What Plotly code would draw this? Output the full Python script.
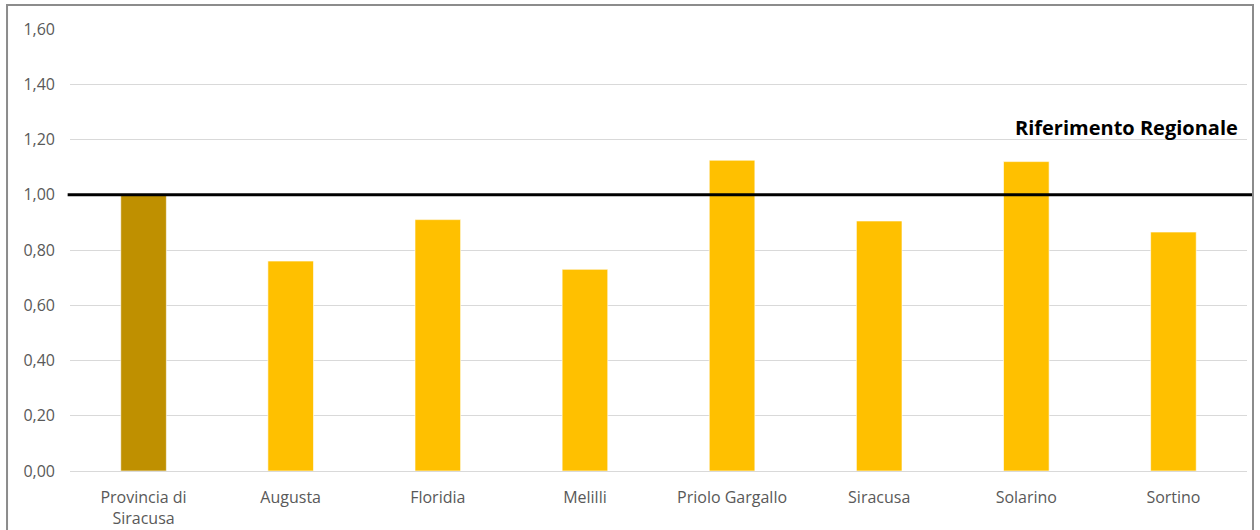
import plotly.graph_objects as go

# Indici per comune (provincia di Siracusa) rispetto al riferimento regionale
comuni = ["Provincia di<br>Siracusa", "Augusta", "Floridia", "Melilli",
          "Priolo Gargallo", "Siracusa", "Solarino", "Sortino"]
valori = [1.00, 0.76, 0.91, 0.73, 1.125, 0.905, 1.12, 0.865]
colori = ["#BF9000"] + ["#FFC000"] * 7

riferimento = 1.00
etichetta_rif = "Riferimento Regionale"

FONT = "'Open Sans', 'Noto Sans', sans-serif"
GRIGIO = "#595959"

fig = go.Figure(
    go.Bar(
        x=comuni,
        y=valori,
        marker=dict(color=colori, line=dict(color="rgba(255,255,255,0.6)", width=1)),
        width=0.31,
        hoverinfo="x+y",
    )
)

# Linea del riferimento regionale
fig.add_shape(
    type="line", xref="paper", yref="y",
    x0=-0.002, x1=1.005, y0=riferimento, y1=riferimento,
    line=dict(color="black", width=3),
)
fig.add_annotation(
    text=f"<b>{etichetta_rif}</b>", xref="paper", yref="y",
    x=0.994, y=1.245, xanchor="right", yanchor="middle",
    showarrow=False, font=dict(family=FONT, size=20, color="black"),
)

# Cornice del grafico
fig.add_shape(
    type="rect", xref="paper", yref="paper",
    x0=-0.0535, x1=1.0051, y0=-0.3, y1=1.0543,
    line=dict(color="#8c8c8c", width=2), layer="above",
)

fig.update_layout(
    width=1260, height=530,
    margin=dict(l=70, r=13, t=29, b=59),
    paper_bgcolor="white", plot_bgcolor="white",
    separators=",.",
    showlegend=False,
    font=dict(family=FONT, size=16, color=GRIGIO),
    xaxis=dict(
        showgrid=False, showline=False, ticks="", ticklabelstandoff=15,
        automargin=False,
        tickfont=dict(size=16, color=GRIGIO),
    ),
    yaxis=dict(
        range=[0, 1.6], dtick=0.2, tickformat=".2f",
        showgrid=True, gridcolor="#d9d9d9", gridwidth=1,
        zeroline=True, zerolinecolor="#d9d9d9", zerolinewidth=1,
        showline=False, ticks="", ticklabelstandoff=14,
        automargin=False,
        tickfont=dict(size=16, color=GRIGIO),
    ),
)

fig.write_html("out.html")
